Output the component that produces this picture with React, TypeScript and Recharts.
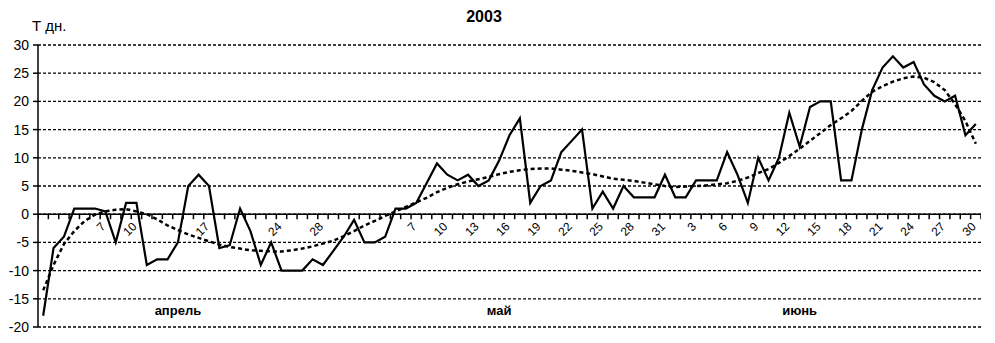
import React from "react"
import {
  CartesianGrid,
  ComposedChart,
  Line,
  ReferenceLine,
  Scatter,
  XAxis,
  YAxis,
} from "recharts"

const monthNames = ["апрель", "май", "июнь"]
const monthLengths = [30, 31, 30]
// day of the month under which the month caption sits
const monthCaptionDay = [14, 15, 13]

const aprilTicks = [7, 10, 17, 24, 28]
const mayTicks = [7, 10, 13, 16, 19, 22, 25, 28, 31]
const juneTicks = [3, 6, 9, 12, 15, 18, 21, 24, 27, 30]

// daily temperature, 1 April .. 30 June 2003
const temperature = [
  -18, -6, -4, 1, 1, 1, 0.5, -5, 2, 2,
  -9, -8, -8, -5, 5, 7, 5, -6, -5.5, 1,
  -3, -9, -5, -10, -10, -10, -8, -9, -6.5, -4,
  -1, -5, -5, -4, 1, 1, 2, 5.5, 9, 7,
  6, 7, 5, 6, 9.5, 14, 17, 2, 5, 6,
  11, 13, 15, 1, 4, 1, 5, 3, 3, 3,
  7, 3, 3, 6, 6, 6, 11, 7, 2, 10,
  6, 10, 18, 12, 19, 20, 20, 6, 6, 15,
  22, 26, 28, 26, 27, 23, 21, 20, 21, 14,
  16,
]

// dotted trend line
const trend = [
  -13.5, -9, -5.3, -3, -1.2, -0.1, 0.5, 0.8, 0.9, 0.5,
  0, -0.9, -2, -2.8, -3.6, -4.2, -4.8, -5.4, -5.8, -6.1,
  -6.4, -6.5, -6.6, -6.6, -6.4, -6.1, -5.7, -5.2, -4.7, -3.9,
  -3, -2, -1.2, -0.3, 0.5, 1.3, 2.1, 2.9, 3.9, 4.7,
  5.3, 5.8, 6.2, 6.6, 7.1, 7.5, 7.8, 8, 8.1, 8.1,
  7.9, 7.7, 7.4, 7.1, 6.7, 6.3, 6.1, 5.9, 5.6, 5.3,
  5, 4.8, 4.9, 5, 5.1, 5.3, 5.5, 5.9, 6.5, 7.3,
  8, 9.1, 10.3, 11.6, 13, 14.4, 15.8, 17, 18.3, 20.1,
  21.7, 22.7, 23.5, 24.1, 24.4, 24.2, 23.4, 22, 19.5, 16.5,
  12.5,
]

const yTicks = [-20, -15, -10, -5, 0, 5, 10, 15, 20, 25, 30]

const tickDays = [aprilTicks, mayTicks, juneTicks]

const categories: { month: number; day: number }[] = []
monthLengths.forEach((len, m) => {
  for (let d = 1; d <= len; d++) categories.push({ month: m, day: d })
})

const lineData = categories.map((_, i) => ({
  x: i,
  t: temperature[i],
  trend: trend[i],
}))

// every category gets tick marks at its edges; some get a day label
const axisData = categories.map((c, i) => ({
  x: i,
  y: 0,
  label: tickDays[c.month].includes(c.day) ? String(c.day) : "",
  last: i === categories.length - 1,
}))

const monthCaptionData = monthNames.map((name, m) => ({
  x: categories.findIndex((c) => c.month === m && c.day === monthCaptionDay[m]),
  y: -17,
  label: name,
}))

const font = "Arial, 'Liberation Sans', sans-serif"

const chartW = 995
const chartH = 343
const margin = { top: 45, right: 14, bottom: 16, left: 0 }
const yAxisW = 38
// half of one category's width on the x axis
const halfStep = (chartW - margin.left - margin.right - yAxisW) / categories.length / 2

const AxisSlot = (p: any) => {
  const lx = p.cx + 1
  const ly = p.cy + 13
  const left = p.cx - halfStep
  const right = p.cx + halfStep
  return (
    <g>
      <path
        d={`M${left},${p.cy}v5${p.payload.last ? `M${right},${p.cy}v5` : ""}`}
        stroke="#000"
        strokeWidth={1.5}
        fill="none"
      />
      {p.payload.label ? (
        <text
          x={lx}
          y={ly}
          transform={`rotate(-45 ${lx} ${ly})`}
          textAnchor="end"
          fontSize={12}
          fontFamily={font}
          fill="#000"
        >
          {p.payload.label}
        </text>
      ) : null}
    </g>
  )
}

const MonthLabel = (p: any) => (
  <text
    x={p.cx}
    y={p.cy}
    textAnchor="middle"
    dominantBaseline="central"
    fontSize={13}
    fontWeight="bold"
    fontFamily={font}
    fill="#000"
  >
    {p.payload.label}
  </text>
)

export default function App() {
  return (
    <div
      style={{
        position: "absolute",
        left: 0,
        top: 0,
        width: chartW,
        height: chartH,
        background: "#fff",
        fontFamily: font,
      }}
    >
      <div
        style={{
          position: "absolute",
          left: 434,
          top: 8,
          width: 100,
          textAlign: "center",
          fontSize: 16,
          fontWeight: "bold",
        }}
      >
        2003
      </div>
      <div style={{ position: "absolute", left: 32, top: 17, fontSize: 15 }}>Т дн.</div>
      <ComposedChart width={chartW} height={chartH} margin={margin}>
        <CartesianGrid vertical={false} stroke="#000" strokeWidth={1.3} strokeDasharray="3 2" />
        <XAxis
          type="number"
          dataKey="x"
          domain={[-0.5, categories.length - 0.5]}
          allowDataOverflow
          hide
        />
        <YAxis
          domain={[-20, 30]}
          ticks={yTicks}
          interval={0}
          width={yAxisW}
          axisLine={{ stroke: "#000", strokeWidth: 1.5 }}
          tickLine={{ stroke: "#000", strokeWidth: 1.5 }}
          tickSize={5}
          tickMargin={4}
          tick={{ fill: "#000", fontSize: 14, fontFamily: font }}
          allowDataOverflow
        />
        <ReferenceLine y={0} stroke="#000" strokeWidth={1.5} />
        <Scatter data={axisData} dataKey="y" shape={AxisSlot} isAnimationActive={false} />
        <Scatter data={monthCaptionData} dataKey="y" shape={MonthLabel} isAnimationActive={false} />
        <Line
          data={lineData}
          dataKey="trend"
          type="linear"
          stroke="#000"
          strokeWidth={2.5}
          strokeDasharray="4 3"
          dot={false}
          isAnimationActive={false}
        />
        <Line
          data={lineData}
          dataKey="t"
          type="linear"
          stroke="#000"
          strokeWidth={2.2}
          dot={false}
          isAnimationActive={false}
        />
      </ComposedChart>
    </div>
  )
}
